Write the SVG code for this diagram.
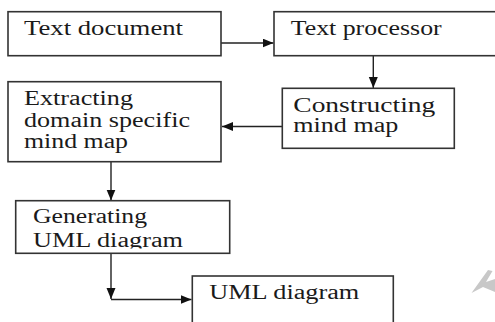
<svg xmlns="http://www.w3.org/2000/svg" width="495" height="322" viewBox="0 0 495 322">
<style>
.box{fill:#fff;stroke:#333;stroke-width:1.6}
.lbl{font-family:"Liberation Serif","Times New Roman",serif;font-size:20px;fill:#1a1a1a}
.conn{fill:none;stroke:#222;stroke-width:1.4}
</style>
<defs>
<marker id="ah" markerUnits="userSpaceOnUse" markerWidth="12" markerHeight="10" refX="11" refY="4.5" orient="auto">
<path d="M0,0 L11,4.5 L0,9 z" fill="#111"/>
</marker>
<clipPath id="clip5"><rect x="0" y="195" width="240" height="53.5"/></clipPath>
</defs>
<rect width="495" height="322" fill="#fff"/>
<g id="connectors">
<path class="conn" d="M221,43 L273.5,43" marker-end="url(#ah)"/>
<path class="conn" d="M373.3,56 L373.3,88" marker-end="url(#ah)"/>
<path class="conn" d="M282,126.5 L222,126.5" marker-end="url(#ah)"/>
<path class="conn" d="M111,162 L111,200.5" marker-end="url(#ah)"/>
<path class="conn" d="M111,253 L111,299" marker-end="url(#ah)"/>
<path class="conn" d="M111,299.5 L191.5,299.5" marker-end="url(#ah)"/>
</g>
<g id="n1">
<rect class="box" x="8" y="11.7" width="213" height="44"/>
<text class="lbl" x="24" y="35" textLength="159" lengthAdjust="spacingAndGlyphs">Text document</text>
</g>
<g id="n2">
<rect class="box" x="274" y="11.7" width="230" height="44"/>
<text class="lbl" x="290.7" y="35" textLength="151" lengthAdjust="spacingAndGlyphs">Text processor</text>
</g>
<g id="n3">
<rect class="box" x="282.3" y="88.3" width="172" height="60"/>
<text class="lbl" x="293.3" y="112.3" textLength="142" lengthAdjust="spacingAndGlyphs">Constructing</text>
<text class="lbl" x="293.3" y="132" textLength="105" lengthAdjust="spacingAndGlyphs">mind map</text>
</g>
<g id="n4">
<rect class="box" x="8" y="81.7" width="213" height="80"/>
<text class="lbl" x="24" y="105" textLength="109" lengthAdjust="spacingAndGlyphs">Extracting</text>
<text class="lbl" x="24" y="126.7" textLength="166" lengthAdjust="spacingAndGlyphs">domain specific</text>
<text class="lbl" x="24" y="148" textLength="104" lengthAdjust="spacingAndGlyphs">mind map</text>
</g>
<g id="n5">
<rect class="box" x="15.7" y="200.7" width="214" height="52.6"/>
<g clip-path="url(#clip5)">
<text class="lbl" x="33" y="223.3" textLength="114" lengthAdjust="spacingAndGlyphs">Generating</text>
<text class="lbl" x="33" y="246.7" textLength="150" lengthAdjust="spacingAndGlyphs">UML diagram</text>
</g>
</g>
<g id="n6">
<rect class="box" x="192.3" y="276" width="201" height="60"/>
<text class="lbl" x="209.3" y="299.3" textLength="150" lengthAdjust="spacingAndGlyphs">UML diagram</text>
</g>
<polygon points="471.5,293 488,270 492.5,271 486,282 495,279 495,292 483,287" fill="#c8c8c8"/>
</svg>
